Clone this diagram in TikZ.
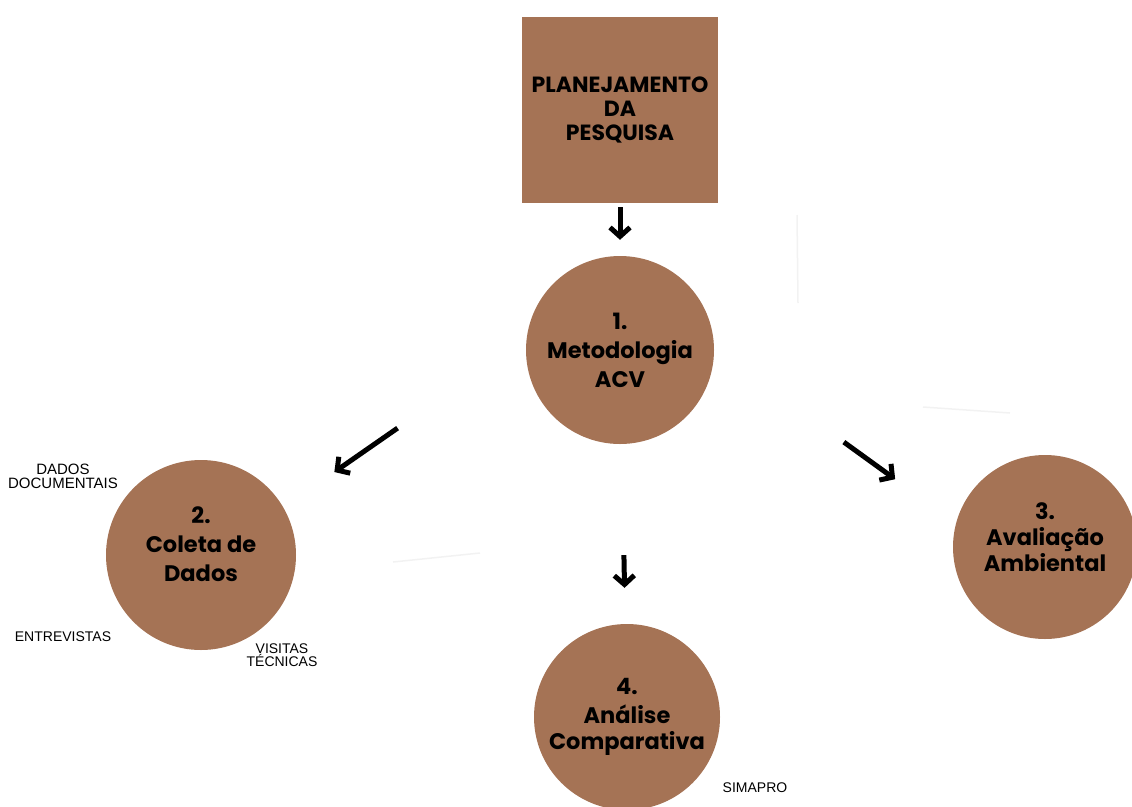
\documentclass[tikz,border=0pt]{standalone}
\usepackage{fontspec}
\setmainfont{Poppins}
\newfontfamily\labelfont{Liberation Sans}
\usetikzlibrary{arrows.meta,positioning}
\definecolor{terra}{RGB}{165,115,85}
\tikzset{>/.tip={Straight Barb[length=9pt,width=20pt,line width=5pt]}}

\begin{document}
\begin{tikzpicture}[x=1pt,y=-1pt,node distance=240pt,on grid,
    stage/.style={circle,fill=terra,inner sep=0pt,align=center,
      font=\bfseries\fontsize{22.5}{29}\selectfont},
    note/.style={align=center,font=\labelfont\fontsize{14}{12.5}\selectfont},
    flow/.style={draw,->,line width=5pt},
    smudge/.style={draw=black!5,line width=1.5pt}]
        \useasboundingbox (0,0) rectangle (1132,806);
        \node(plan)[fill=terra,minimum width=196pt,minimum height=186pt,align=center,
          font=\bfseries\fontsize{22}{24}\selectfont] at (620,110)
          {PLANEJAMENTO\\DA\\PESQUISA};
        \node(metod)[stage,minimum size=188pt,below=of plan]{1.\\Metodologia\\ACV};
        \node(coleta)[stage,minimum size=190pt,below left=205pt and 419pt of metod]{2.\\Coleta de\\Dados\\[-8pt]};
        \node(aval)[stage,minimum size=184pt,below right=197pt and 425pt of metod]{3.\\[-3pt]Avaliação\\[-3pt]Ambiental\\[-10pt]};
        \node(anal)[stage,minimum size=186pt,below right=367pt and 7pt of metod]{4.\\Análise\\[-3pt]Comparativa};
        % small notes round the circles
        \node(docs)[note,font=\labelfont\fontsize{15}{14}\selectfont] at (63,476){DADOS\\DOCUMENTAIS};
        \node(entrev)[note] at (63,637){ENTREVISTAS};
        \node(visit)[note] at (282,655){VISITAS\\TÉCNICAS};
        \node(simap)[note] at (755,788){SIMAPRO};
        \path
        (plan) edge[flow,shorten <=4pt,shorten >=16pt] (metod)
        (metod.173) edge[flow,shorten <=157pt,shorten >=62pt] (coleta.30)
        (metod.1) edge[flow,shorten <=160pt,shorten >=75pt] (aval.165.5)
        (metod) edge[flow,shorten <=111pt,shorten >=36pt] (anal);
        % faint strokes left in the scan
        \draw[smudge] (797,215) -- (798,303);
        \draw[smudge] (923,407) -- (1010,413);
        \draw[smudge] (393,562) -- (480,553);
      \end{tikzpicture}
\end{document}
